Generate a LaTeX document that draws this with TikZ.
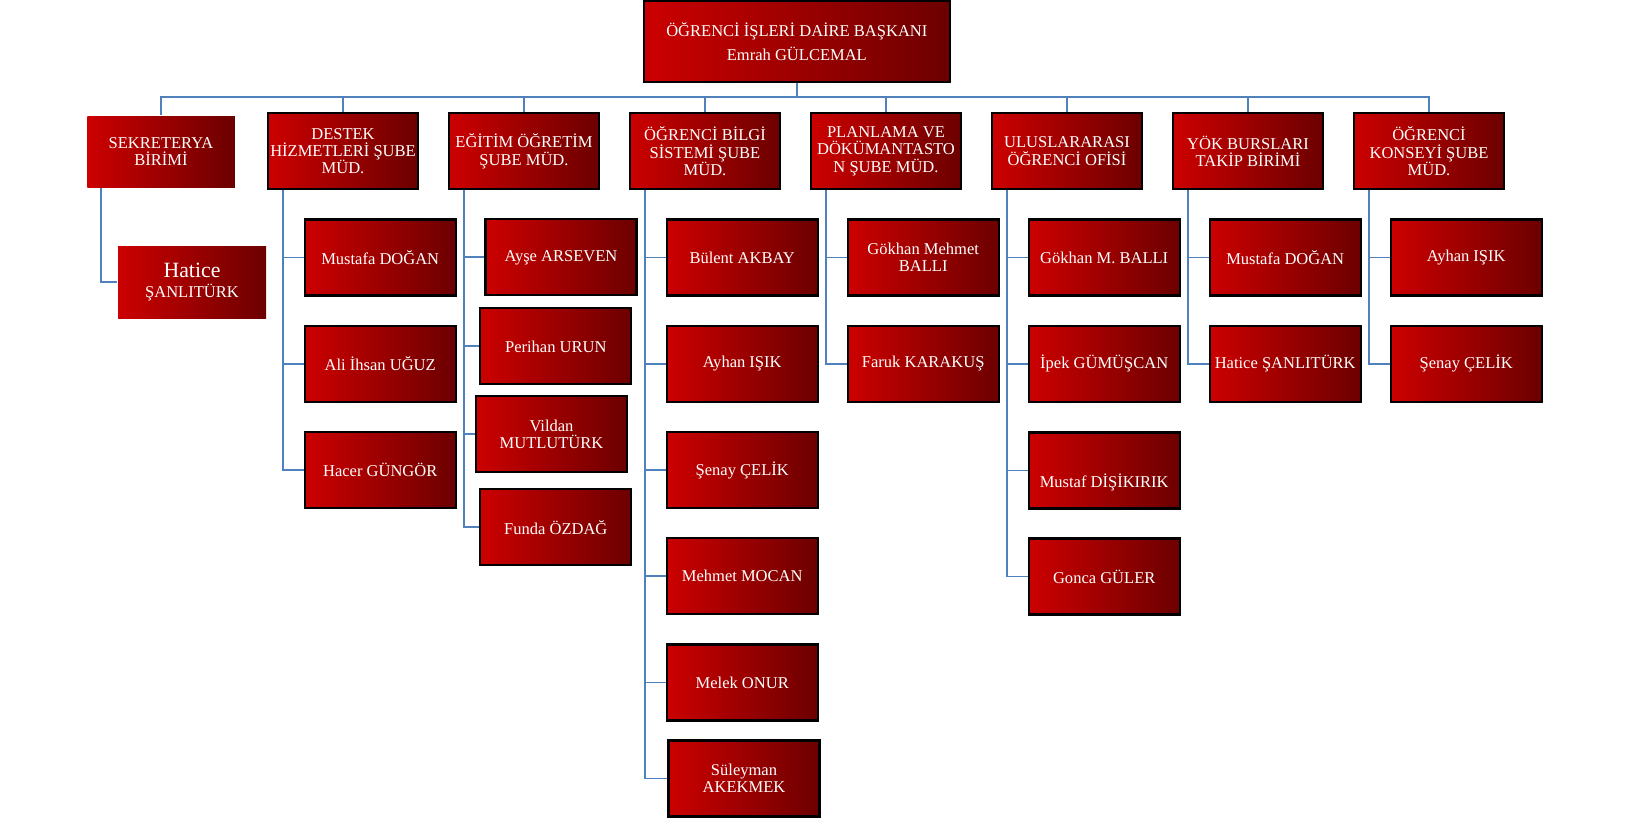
\documentclass[tikz,border=0pt]{standalone}
\usepackage{fontspec}
\setmainfont{Liberation Serif}
\usepackage{xcolor}
\usepackage{tikz}
\definecolor{redL}{RGB}{204,0,0}
\definecolor{redR}{RGB}{108,0,0}
\definecolor{lineblue}{RGB}{79,129,189}

\begin{document}
\begin{tikzpicture}[
      box/.style={draw=black, line width=1.3pt, left color=redL, right color=redR,
        text=white, align=center, inner sep=1pt,
        minimum width=3.012cm, minimum height=1.514cm,
        font=\fontsize{9.4}{10}\selectfont},
      kid/.style={box, minimum width=3.02cm, minimum height=1.52cm},
      noline/.style={draw=none},
      conn/.style={draw=lineblue, line width=1pt}]
      \useasboundingbox (0,0) rectangle (32.56,-16.54);

      \node[box, minimum width=6.126cm, minimum height=1.62cm,
        font=\fontsize{9.4}{13.6}\selectfont] (B) at (15.937,-0.824)
        {ÖĞRENCİ İŞLERİ DAİRE BAŞKANI\\Emrah GÜLCEMAL};
      \coordinate (bus) at (15.937,-1.94);

      \node[box, noline, minimum width=2.95cm, minimum height=1.42cm] (S) at (3.22,-3.03) {SEKRETERYA\\BİRİMİ};
      \node[box, font=\fontsize{9.4}{9.8}\selectfont] (D) at (6.86,-3.024) {DESTEK\\HİZMETLERİ ŞUBE\\MÜD.};
      \node[box] (E) at (10.48,-3.024) {EĞİTİM ÖĞRETİM\\ŞUBE MÜD.};
      \node[box] (O) at (14.10,-3.024) {ÖĞRENCİ BİLGİ\\SİSTEMİ ŞUBE\\MÜD.};
      \node[box] (P) at (17.72,-3.024) {PLANLAMA VE\\DÖKÜMANTASTO\\N ŞUBE MÜD.};
      \node[box] (U) at (21.34,-3.024) {ULUSLARARASI\\ÖĞRENCİ OFİSİ};
      \node[box] (Y) at (24.96,-3.024) {YÖK BURSLARI\\TAKİP BİRİMİ};
      \node[box] (K) at (28.58,-3.024) {ÖĞRENCİ\\KONSEYİ ŞUBE\\MÜD.};

      \node[box, noline, minimum width=2.96cm, minimum height=1.44cm] (S1) at (3.84,-5.64)
        {{\fontsize{12.4}{13}\selectfont Hatice}\\[1pt]ŞANLITÜRK};

      \node[kid] (D1) at (7.604,-5.15) {Mustafa DOĞAN};
      \node[kid] (D2) at (7.604,-7.275) {Ali İhsan UĞUZ};
      \node[kid] (D3) at (7.604,-9.40) {Hacer GÜNGÖR};

      \node[kid] (E1) at (11.22,-5.147) {Ayşe ARSEVEN};
      \node[kid] (E2) at (11.116,-6.927) {Perihan URUN};
      \node[kid] (E3) at (11.03,-8.687) {Vildan\\MUTLUTÜRK};
      \node[kid] (E4) at (11.116,-10.547) {Funda ÖZDAĞ};

      \node[kid] (O1) at (14.844,-5.15) {Bülent AKBAY};
      \node[kid] (O2) at (14.844,-7.275) {Ayhan IŞIK};
      \node[kid] (O3) at (14.844,-9.40) {Şenay ÇELİK};
      \node[kid] (O4) at (14.844,-11.525) {Mehmet MOCAN};
      \node[kid] (O5) at (14.844,-13.65) {Melek ONUR};
      \node[kid] (O6) at (14.88,-15.568) {Süleyman\\AKEKMEK};

      \node[kid] (P1) at (18.464,-5.15) {Gökhan Mehmet\\BALLI};
      \node[kid] (P2) at (18.464,-7.275) {Faruk KARAKUŞ};

      \node[kid] (U1) at (22.084,-5.15) {Gökhan M. BALLI};
      \node[kid] (U2) at (22.084,-7.275) {İpek GÜMÜŞCAN};
      \node[kid] (U3) at (22.084,-9.41) {\raisebox{-0.34cm}[0pt][0pt]{Mustaf DİŞİKIRIK}};
      \node[kid] (U4) at (22.084,-11.53) {Gonca GÜLER};

      \node[kid] (Y1) at (25.704,-5.15) {Mustafa DOĞAN};
      \node[kid] (Y2) at (25.704,-7.275) {Hatice ŞANLITÜRK};

      \node[kid] (K1) at (29.324,-5.15) {Ayhan IŞIK};
      \node[kid] (K2) at (29.324,-7.275) {Şenay ÇELİK};

      \draw[conn] (B.south) -- (bus);
      \draw[conn] (S.north) -- (S.north |- bus) -- (K.north |- bus) -- (K.north);
      \draw[conn] (D.north) -- (D.north |- bus) (E.north) -- (E.north |- bus)
        (O.north) -- (O.north |- bus) (P.north) -- (P.north |- bus)
        (U.north) -- (U.north |- bus) (Y.north) -- (Y.north |- bus);

      \draw[conn] ([xshift=-1.2cm]S.south) |- (S1.west);
      \draw[conn] ([xshift=-1.2cm]D.south) |- (D1.west) ([xshift=-1.2cm]D.south) |- (D2.west)
        ([xshift=-1.2cm]D.south) |- (D3.west);
      \draw[conn] ([xshift=-1.2cm]E.south) |- (E1.west) ([xshift=-1.2cm]E.south) |- (E2.west)
        ([xshift=-1.2cm]E.south) |- (E3.west) ([xshift=-1.2cm]E.south) |- (E4.west);
      \draw[conn] ([xshift=-1.2cm]O.south) |- (O1.west) ([xshift=-1.2cm]O.south) |- (O2.west)
        ([xshift=-1.2cm]O.south) |- (O3.west) ([xshift=-1.2cm]O.south) |- (O4.west)
        ([xshift=-1.2cm]O.south) |- (O5.west) ([xshift=-1.2cm]O.south) |- (O6.west);
      \draw[conn] ([xshift=-1.2cm]P.south) |- (P1.west) ([xshift=-1.2cm]P.south) |- (P2.west);
      \draw[conn] ([xshift=-1.2cm]U.south) |- (U1.west) ([xshift=-1.2cm]U.south) |- (U2.west)
        ([xshift=-1.2cm]U.south) |- (U3.west) ([xshift=-1.2cm]U.south) |- (U4.west);
      \draw[conn] ([xshift=-1.2cm]Y.south) |- (Y1.west) ([xshift=-1.2cm]Y.south) |- (Y2.west);
      \draw[conn] ([xshift=-1.2cm]K.south) |- (K1.west) ([xshift=-1.2cm]K.south) |- (K2.west);
    \end{tikzpicture}
\end{document}
